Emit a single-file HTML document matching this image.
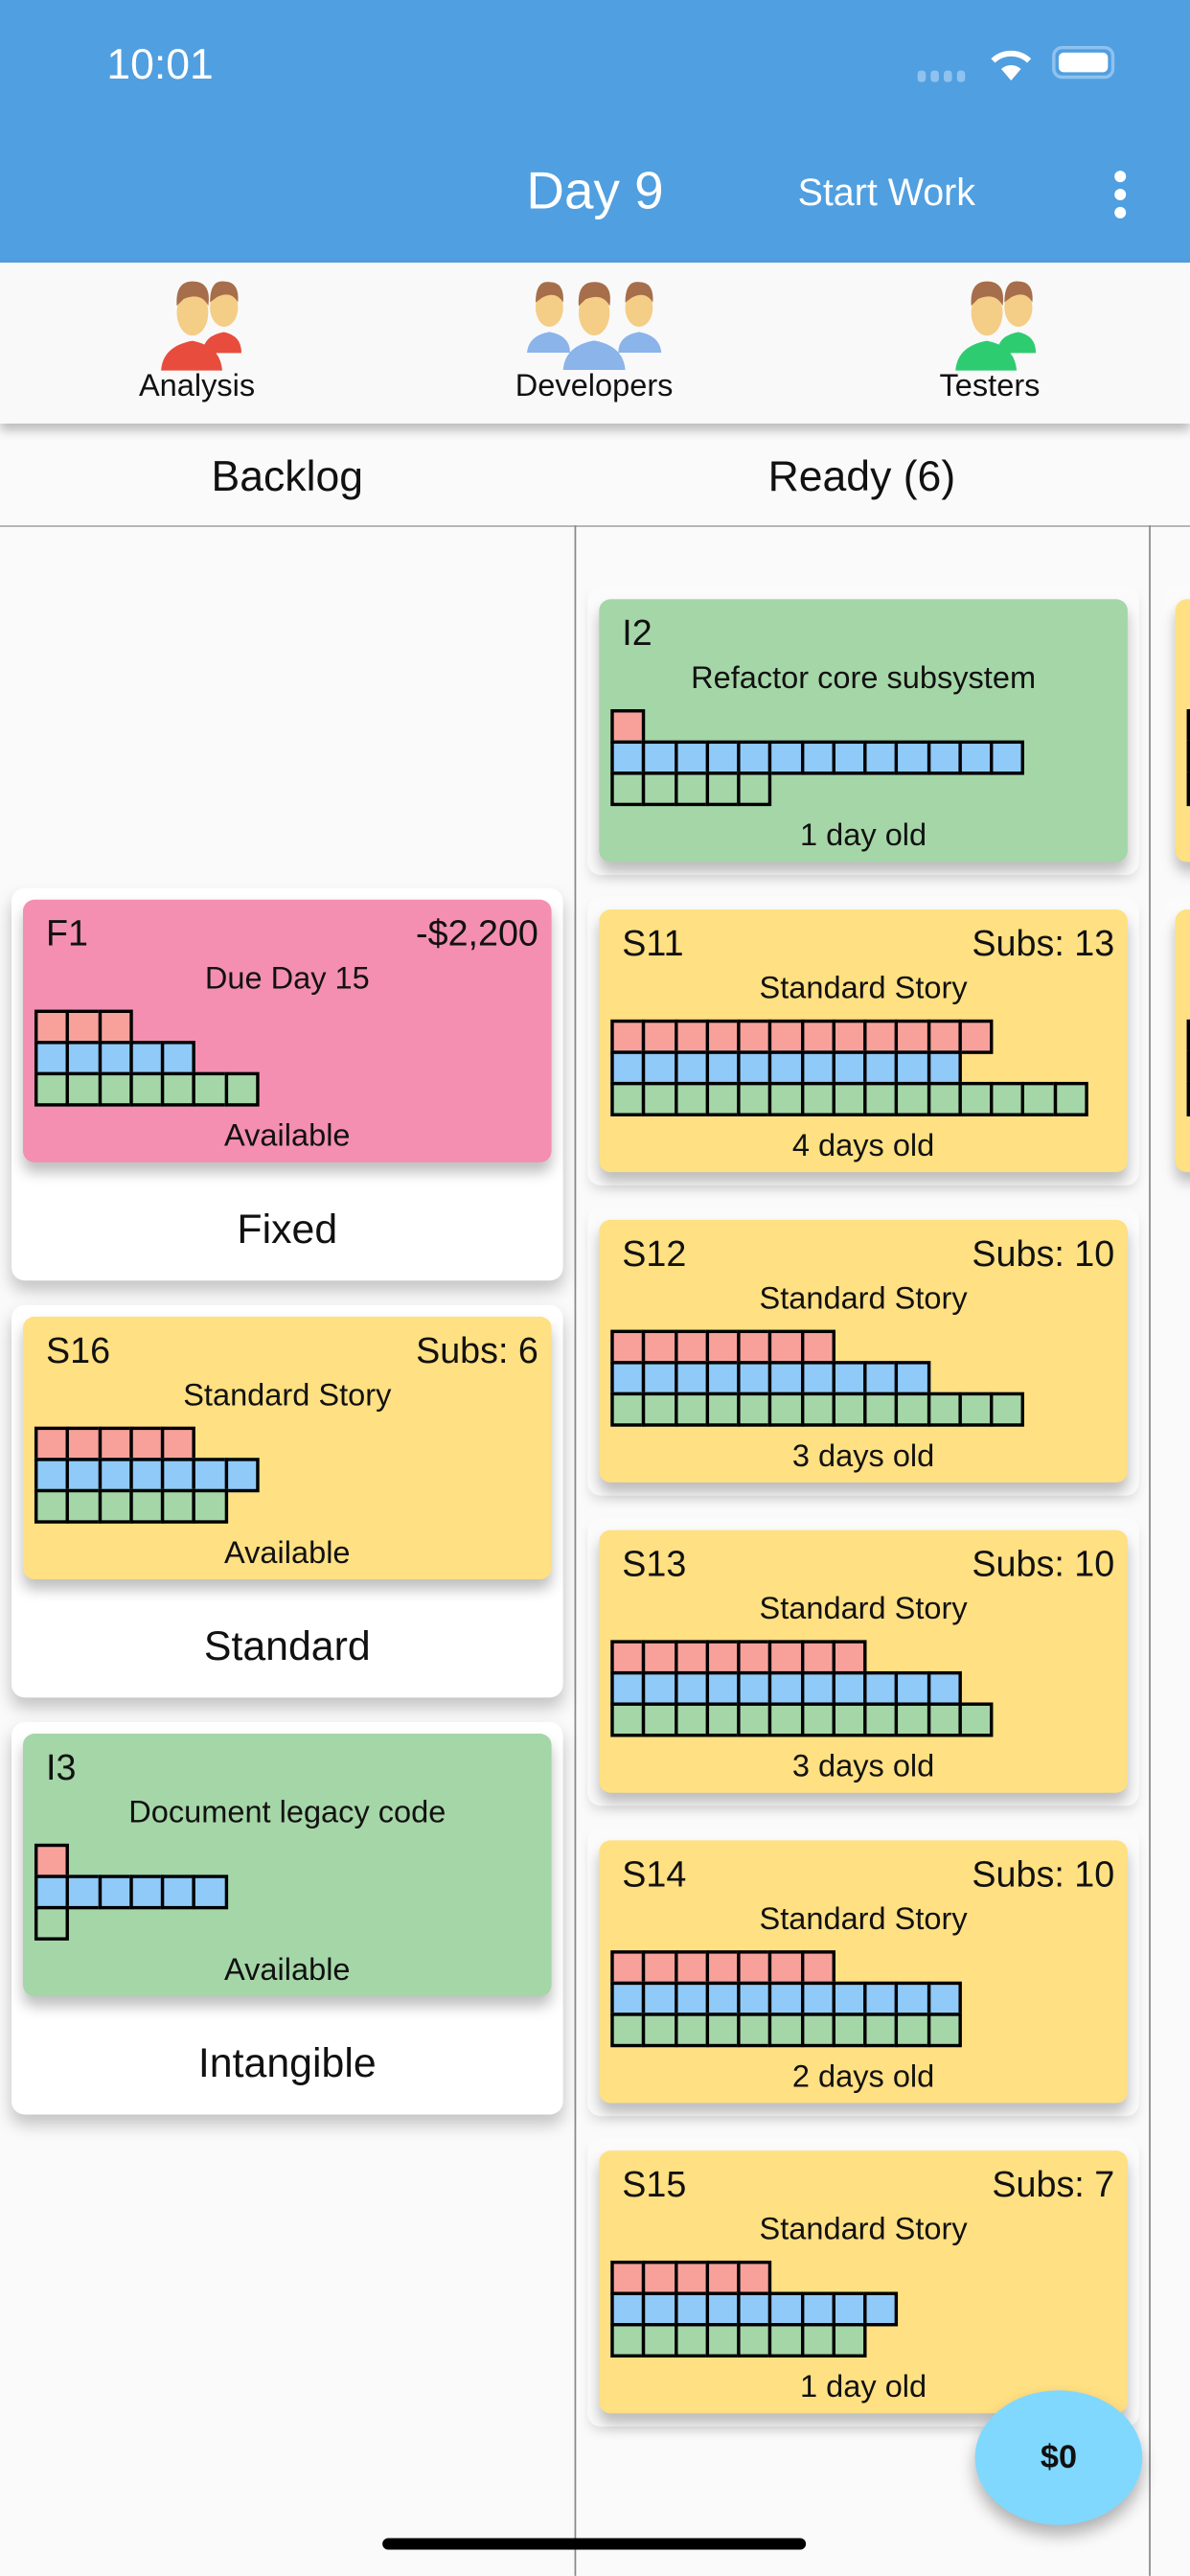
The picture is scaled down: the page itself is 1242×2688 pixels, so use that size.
<!DOCTYPE html>
<html><head><meta charset="utf-8"><style>
html,body{margin:0;padding:0;width:1242px;height:2688px;overflow:hidden;background:#fafafa;}
#root{position:absolute;left:0;top:0;width:725px;height:1569.1px;transform:scale(1.71310);transform-origin:0 0;font-family:"Liberation Sans",sans-serif;color:#111;background:#fafafa;overflow:hidden;}
.abs{position:absolute;}
.wrap{position:absolute;background:#fff;border-radius:8px;box-shadow:0 6px 10px rgba(0,0,0,0.22);}
.rwrap{position:absolute;background:#fbfbfb;border-radius:8px;}
.card{position:absolute;width:322px;height:160px;border-radius:7px;box-shadow:0 6px 8px rgba(0,0,0,0.25);}
.t{position:absolute;font-size:22px;top:8px;}
.sub{position:absolute;left:0;width:100%;text-align:center;font-size:19px;top:38px;}
.bot{position:absolute;left:0;width:100%;text-align:center;font-size:19px;top:134px;}
.sq{position:absolute;box-sizing:border-box;border:2px solid #000;}
.lab{position:absolute;width:336px;text-align:center;font-size:25px;}
</style></head><body>
<div id="root">
  <div class="abs" style="left:0;top:0;width:725px;height:160px;background:#509FE0;box-shadow:0 2px 4px rgba(0,0,0,0.2);"></div>
  <div class="abs" style="left:65px;top:24px;font-size:26px;color:#fff;">10:01</div>
  <div class="abs" style="left:559px;top:43px;width:32px;height:8px;">
    <div class="abs" style="left:0;top:0;width:5px;height:7px;border-radius:2px;background:#8fc2ef"></div>
    <div class="abs" style="left:8px;top:0;width:5px;height:7px;border-radius:2px;background:#8fc2ef"></div>
    <div class="abs" style="left:16px;top:0;width:5px;height:7px;border-radius:2px;background:#8fc2ef"></div>
    <div class="abs" style="left:24px;top:0;width:5px;height:7px;border-radius:2px;background:#8fc2ef"></div>
  </div>
  <svg class="abs" style="left:601px;top:27px" width="30" height="24" viewBox="0 0 30 24"><path d="M15 22 L9 15 A9 9 0 0 1 21 15 Z" fill="#fff"/><path d="M4 10 A16 16 0 0 1 26 10" stroke="#fff" stroke-width="3.5" fill="none"/></svg>
  <div class="abs" style="left:641px;top:28px;width:38px;height:20px;border:2px solid #8fc2ef;border-radius:6px;box-sizing:border-box;"><div class="abs" style="left:2px;top:2px;width:30px;height:12px;background:#fff;border-radius:3px"></div></div>
  <div class="abs" style="left:300px;top:98px;width:125px;text-align:center;font-size:32px;color:#fff;">Day 9</div>
  <div class="abs" style="left:486px;top:104px;font-size:23px;color:#fff;">Start Work</div>
  <div class="abs" style="left:679px;top:104px;width:8px;height:30px;">
    <div class="abs" style="left:0;top:0;width:7px;height:7px;border-radius:50%;background:#fff"></div>
    <div class="abs" style="left:0;top:11px;width:7px;height:7px;border-radius:50%;background:#fff"></div>
    <div class="abs" style="left:0;top:22px;width:7px;height:7px;border-radius:50%;background:#fff"></div>
  </div>

  <div class="abs" style="left:0;top:160px;width:725px;height:98px;background:#f9f9f9;box-shadow:0 4px 6px rgba(0,0,0,0.25);"></div>
  <svg class="abs" style="left:96px;top:168px" width="66" height="60" viewBox="0 0 62 56">
    <path d="M26 44 Q26 34 38 32 Q48 34 48 44 Z" fill="#e74c3c"/><ellipse cx="38" cy="18" rx="8" ry="11" fill="#f4cd86"/><path d="M30 15 Q30 2 38 3 Q47 3 46 15 Q42 8 34 12 Z" fill="#a66e4a"/>
    <path d="M2 54 Q3 40 20 37 Q36 40 37 54 Z" fill="#e74c3c"/><ellipse cx="20" cy="21" rx="9" ry="13" fill="#f4cd86"/><path d="M11 17 Q10 3 20 3 Q31 3 29 17 Q25 9 15 13 Z" fill="#a66e4a"/>
  </svg>
  <svg class="abs" style="left:320px;top:168px" width="84" height="60" viewBox="0 0 80 56">
    <path d="M1 44 Q2 34 14 32 Q26 34 26 44 Z" fill="#8ab4ea"/><path d="M54 44 Q54 34 66 32 Q78 34 79 44 Z" fill="#8ab4ea"/>
    <ellipse cx="14" cy="18" rx="8" ry="11" fill="#f4cd86"/><path d="M6 15 Q6 2 14 3 Q23 3 22 15 Q18 8 10 12 Z" fill="#a66e4a"/>
    <ellipse cx="66" cy="18" rx="8" ry="11" fill="#f4cd86"/><path d="M58 15 Q58 2 66 3 Q75 3 74 15 Q70 8 62 12 Z" fill="#a66e4a"/>
    <path d="M22 54 Q23 40 40 37 Q57 40 58 54 Z" fill="#8ab4ea"/><ellipse cx="40" cy="21" rx="9" ry="13" fill="#f4cd86"/><path d="M31 17 Q30 3 40 3 Q51 3 49 17 Q45 9 35 13 Z" fill="#a66e4a"/>
  </svg>
  <svg class="abs" style="left:580px;top:168px" width="66" height="60" viewBox="0 0 62 56">
    <path d="M26 44 Q26 34 38 32 Q48 34 48 44 Z" fill="#2ecc71"/><ellipse cx="38" cy="18" rx="8" ry="11" fill="#f4cd86"/><path d="M30 15 Q30 2 38 3 Q47 3 46 15 Q42 8 34 12 Z" fill="#a66e4a"/>
    <path d="M2 54 Q3 40 20 37 Q36 40 37 54 Z" fill="#2ecc71"/><ellipse cx="20" cy="21" rx="9" ry="13" fill="#f4cd86"/><path d="M11 17 Q10 3 20 3 Q31 3 29 17 Q25 9 15 13 Z" fill="#a66e4a"/>
  </svg>
  <div class="abs" style="left:60px;top:225px;width:120px;text-align:center;font-size:19px;">Analysis</div>
  <div class="abs" style="left:292px;top:225px;width:140px;text-align:center;font-size:19px;">Developers</div>
  <div class="abs" style="left:553px;top:225px;width:100px;text-align:center;font-size:19px;">Testers</div>

  <div class="abs" style="left:0;top:275px;width:350px;text-align:center;font-size:26px;">Backlog</div>
  <div class="abs" style="left:350px;top:275px;width:350px;text-align:center;font-size:26px;">Ready (6)</div>
  <div class="abs" style="left:0;top:320px;width:725px;height:1px;background:#aaa;"></div>
  <div class="abs" style="left:350px;top:320px;width:1px;height:1250px;background:#888;"></div>
  <div class="abs" style="left:700px;top:320px;width:1px;height:1250px;background:#888;"></div>

  <div id="cards"></div>

  <div class="abs" style="left:594px;top:1456px;width:102px;height:82px;border-radius:50%;background:#80D8FF;box-shadow:0 6px 10px rgba(0,0,0,0.3);text-align:center;line-height:82px;font-size:20px;font-weight:bold;">$0</div>
  <div class="abs" style="left:233px;top:1546px;width:258px;height:7px;border-radius:4px;background:#000;"></div>
</div>
<script>
var cardIds=["F1","S16","I3","I2","S11","S12","S13","S14","S15"];
var cardRight=["-$2,200","Subs: 6","","","Subs: 13","Subs: 10","Subs: 10","Subs: 10","Subs: 7"];
var cardSub=["Due Day 15","Standard Story","Document legacy code","Refactor core subsystem","Standard Story","Standard Story","Standard Story","Standard Story","Standard Story"];
var cardBottom=["Available","Available","Available","1 day old","4 days old","3 days old","3 days old","2 days old","1 day old"];
var cardType=["fixed","standard","intangible","intangible","standard","standard","standard","standard","standard"];
var analysisWork=[3,5,1,1,12,7,8,7,5];
var devWork=[5,7,6,13,11,10,11,11,9];
var testWork=[7,6,1,5,15,13,12,11,8];
var groupLabels=["Fixed","Standard","Intangible"];

var colors={fixed:"#F48FB1",standard:"#FFE082",intangible:"#A5D6A7"};
var rowColors=["#F8A19B","#90CAF9","#A5D6A7"];
var root=document.getElementById('cards');
function mk(cls,style,parent){var d=document.createElement('div');d.className=cls;d.setAttribute('style',style);parent.appendChild(d);return d;}
[365,554].forEach(function(y,k){
  var w=mk('rwrap','left:709px;top:'+(y-8)+'px;width:40px;height:176px;',root);
  
  
  var c=mk('card','left:716px;top:'+y+'px;background:#FFE082;',root);
  
  
  for(var r=0;r<3;r++){var s=mk('sq','left:7px;top:'+(67+r*19)+'px;width:21px;height:21px;background:'+rowColors[r]+';',c);
  
  }
});
for(var i=0;i<cardIds.length;i++){
  var x,y;
  if(i<3){x=14;y=548+i*254;
    var w=mk('wrap','left:7px;top:'+(y-7)+'px;width:336px;height:239px;',root);
    
    
    var l=mk('lab','left:7px;top:'+(y+187)+'px;',root);l.textContent=groupLabels[i];
    
    
  } else {x=365;y=365+(i-3)*189;
    var w2=mk('rwrap','left:358px;top:'+(y-8)+'px;width:336px;height:176px;box-shadow:0 4px 6px rgba(0,0,0,0.08);',root);
    
    
  }
  var c=mk('card','left:'+x+'px;top:'+y+'px;background:'+colors[cardType[i]]+';',root);
  
  
  var t=mk('t','left:14px;',c);t.textContent=cardIds[i];
  
  
  if(cardRight[i]){var r2=mk('t','right:8px;',c);r2.textContent=cardRight[i];
    
    }
  var s=mk('sub','',c);s.textContent=cardSub[i];
  
  
  var b=mk('bot','',c);b.textContent=cardBottom[i];
  
  
  var rows=[analysisWork[i],devWork[i],testWork[i]];
  for(var r=0;r<3;r++){for(var k=0;k<rows[r];k++){
    var q=mk('sq','left:'+(7+k*19.25)+'px;top:'+(67+r*19)+'px;width:21.25px;height:21px;background:'+rowColors[r]+';',c);
    
    
  }}
}
</script>
</body></html>
